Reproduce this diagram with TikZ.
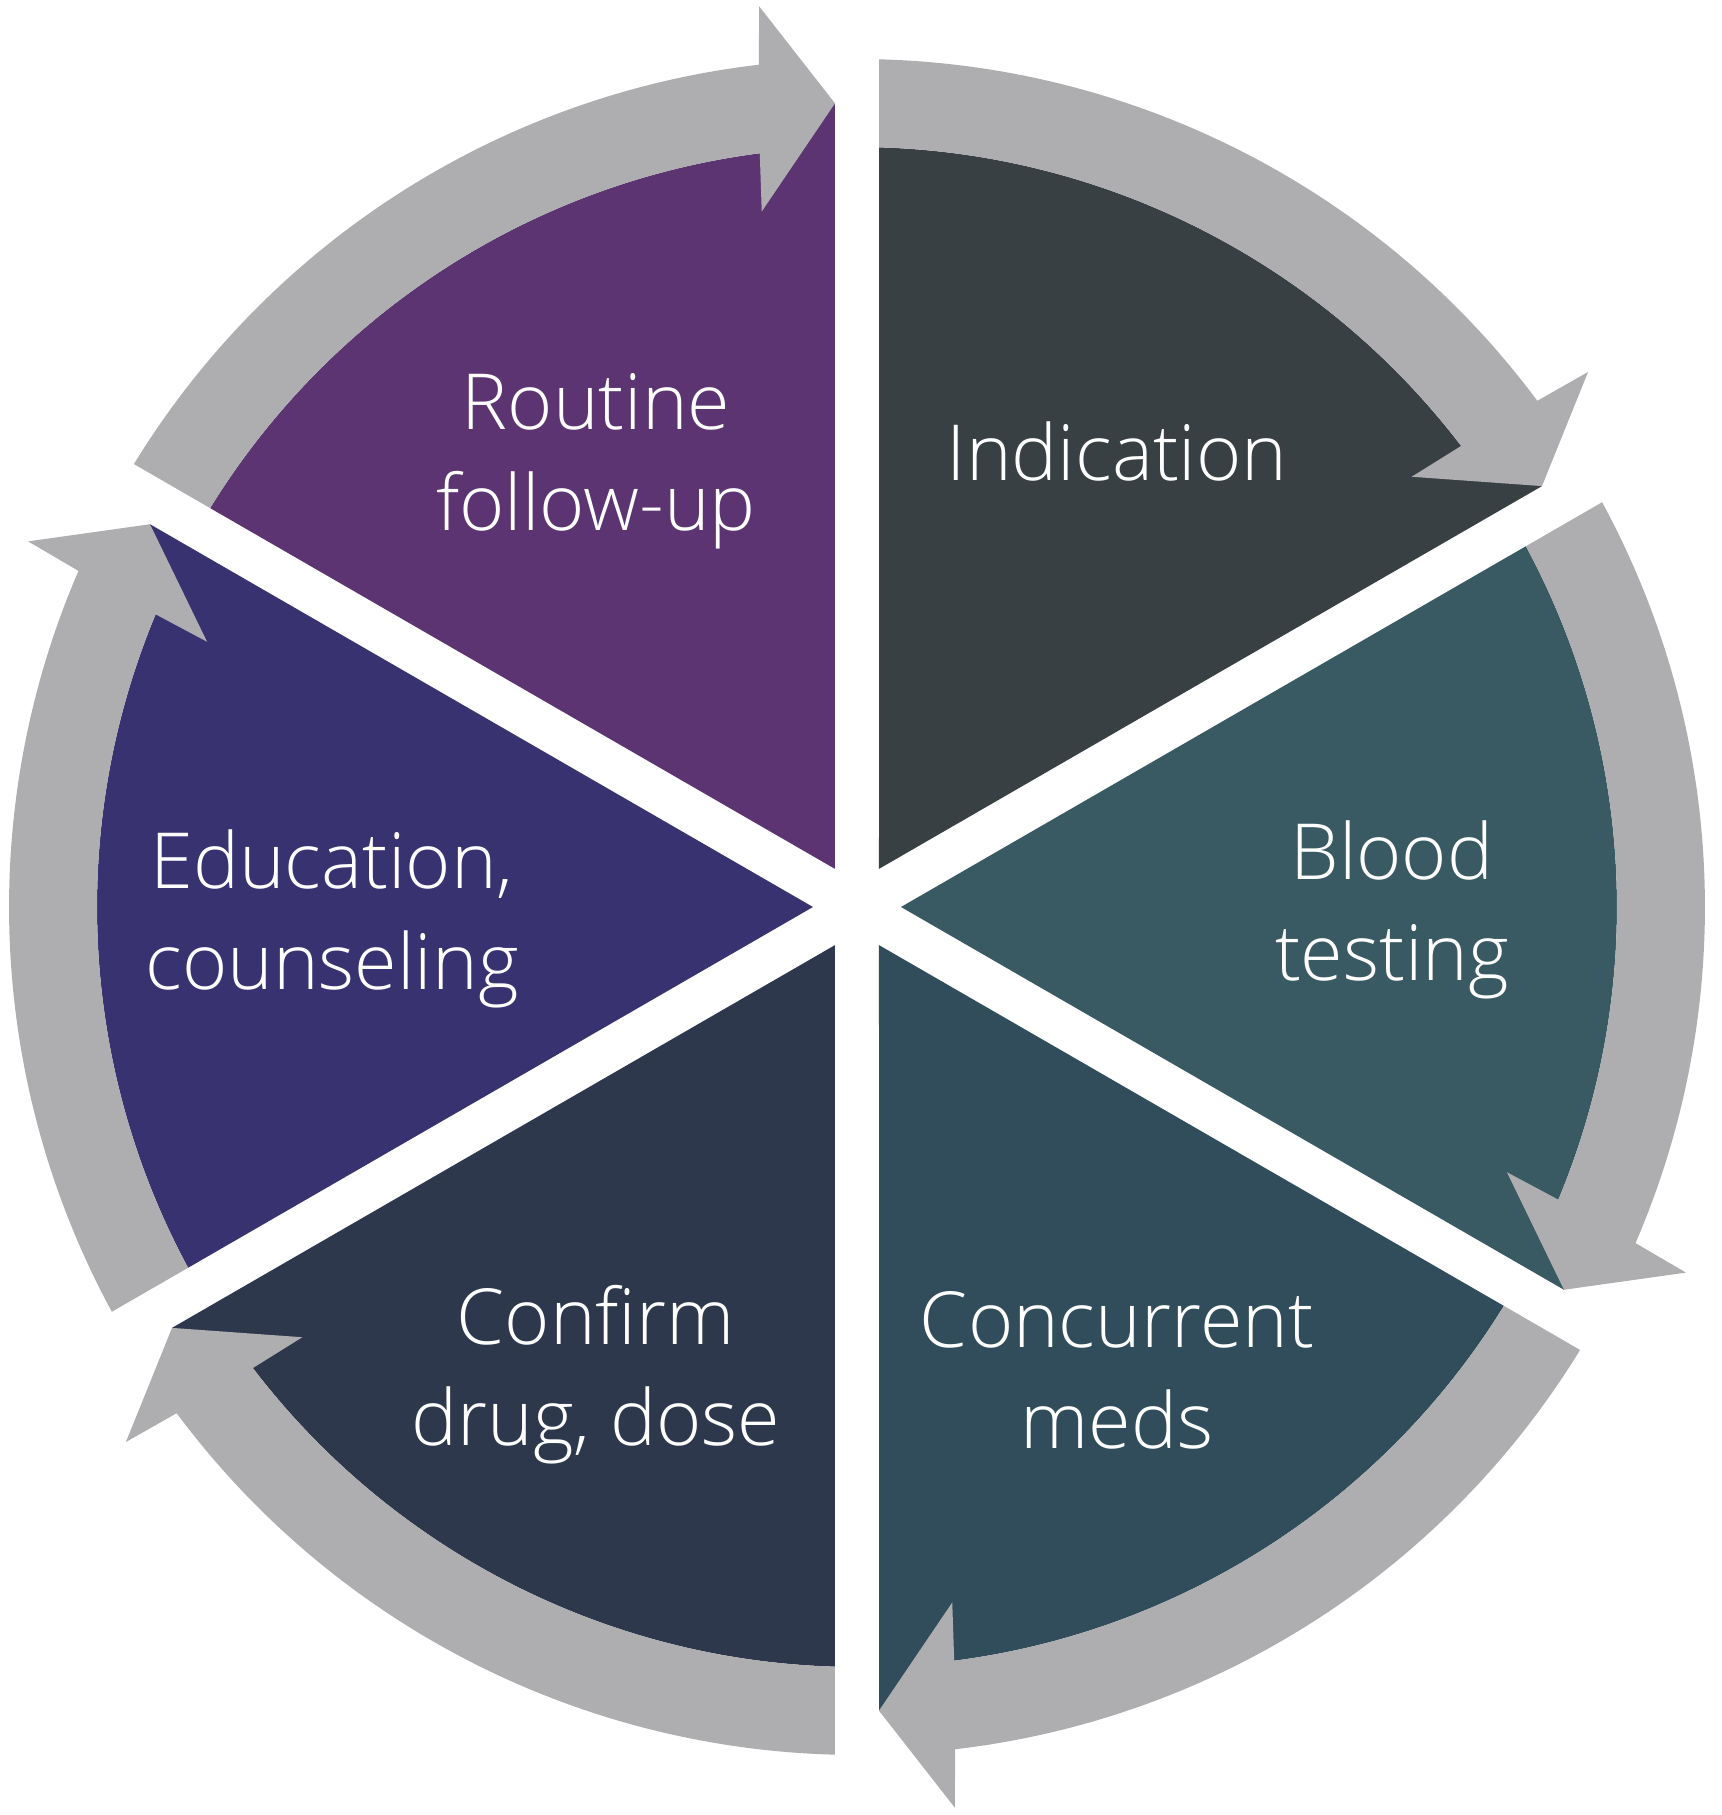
\documentclass[tikz,border=0pt]{standalone}
\usepackage{fontspec}
\setmainfont{Open Sans Light}
\usepackage{tikz}
\usetikzlibrary{calc}
\definecolor{rtn}{RGB}{92,52,114}
\definecolor{ind}{RGB}{56,64,68}
\definecolor{bld}{RGB}{58,90,99}
\definecolor{ccm}{RGB}{49,77,92}
\definecolor{cfd}{RGB}{46,56,77}
\definecolor{edu}{RGB}{57,50,113}
\definecolor{ring}{RGB}{174,174,176}

\begin{document}
\begin{tikzpicture}[x=0.01cm,y=0.01cm,
  wedgepath/.style={insert path={(30:44) -- (1.57:804) -- (7.35:760)
      arc[start angle=7.35,end angle=58.34,radius=760] -- cycle}},
  arrowpath/.style={fill=ring,insert path={(58.51:848)
      arc[start angle=58.51,end angle=6.65,radius=848] -- (6.2:906) -- (1.57:804)
      -- (7.8:702) -- (7.35:760) arc[start angle=7.35,end angle=58.34,radius=760] -- cycle}},
  lbl/.style={text=white,align=center,font=\fontsize{22}{28.8}\selectfont}]
  \useasboundingbox (-857,-908) rectangle (864,907);
  % one slice and its arrow per step, clockwise
  \begin{scope}[rotate=30]
    \fill[ind,wedgepath]; \fill[arrowpath];
  \end{scope}
  \begin{scope}[rotate=-30]
    \fill[bld,wedgepath]; \fill[arrowpath];
  \end{scope}
  \begin{scope}[rotate=-90]
    \fill[ccm,wedgepath]; \fill[arrowpath];
  \end{scope}
  \begin{scope}[rotate=210]
    \fill[cfd,wedgepath]; \fill[arrowpath];
  \end{scope}
  \begin{scope}[rotate=150]
    \fill[edu,wedgepath]; \fill[arrowpath];
  \end{scope}
  \begin{scope}[rotate=90]
    \fill[rtn,wedgepath]; \fill[arrowpath];
  \end{scope}
  \node[lbl] (indication) at (260,456) {Indication};
  \node[lbl] (blood) at (535,-3) {Blood\\testing};
  \node[lbl] (concurrent) at (260,-463) {Concurrent\\meds};
  \node[lbl] (confirm) at (-261,-468) {Confirm\\drug, dose};
  \node[lbl] (education) at (-525,-12) {Education,\\counseling};
  \node[lbl] (routine) at (-261,446) {Routine\\follow-up};
\end{tikzpicture}
\end{document}
